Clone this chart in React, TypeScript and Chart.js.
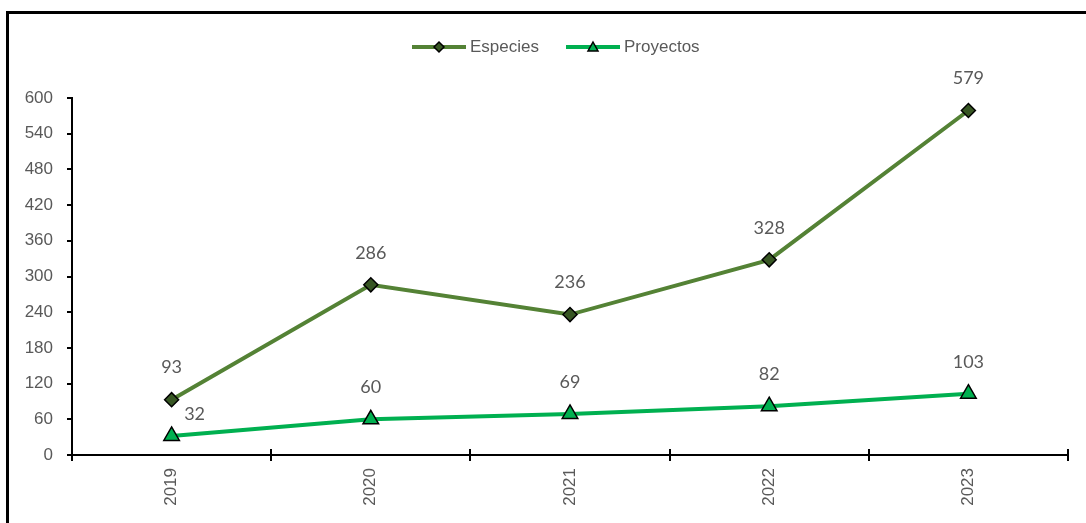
import React, { useEffect, useRef } from "react";
import { Chart, registerables } from "chart.js";

Chart.register(...registerables);

const years = ["2019", "2020", "2021", "2022", "2023"];
const especies = [93, 286, 236, 328, 579];
const proyectos = [32, 60, 69, 82, 103];
const seriesNames = ["Especies", "Proyectos"];

const ESP_LINE = "#548235";
const ESP_FILL = "#375623";
const PRO_LINE = "#00B050";
const PRO_FILL = "#00B050";
const GREY = "#595959";
const TICK_FONT = "'Liberation Sans', Arial, sans-serif";
const LABEL_FONT = "Lato, 'Open Sans', sans-serif";

export default function App() {
  const ref = useRef<HTMLCanvasElement | null>(null);

  useEffect(() => {
    document.body.style.margin = "0";
    const canvas = ref.current;
    if (!canvas) return;

    const extras = {
      id: "extras",
      afterDraw(chart: any) {
        const ctx = chart.ctx;
        const xs = chart.scales.x;
        const area = chart.chartArea;
        ctx.save();
        // cross ticks on x axis (inner part)
        ctx.strokeStyle = "#000";
        ctx.lineWidth = 2;
        const step = xs.getPixelForValue(1) - xs.getPixelForValue(0);
        for (let i = 0; i <= years.length; i++) {
          const x = i < years.length ? xs.getPixelForValue(i) - step / 2 : xs.right;
          ctx.beginPath();
          ctx.moveTo(Math.round(x), area.bottom - 6);
          ctx.lineTo(Math.round(x), area.bottom);
          ctx.stroke();
        }
        // data labels
        ctx.fillStyle = GREY;
        ctx.font = "18px " + LABEL_FONT;
        ctx.textAlign = "center";
        ctx.textBaseline = "middle";
        chart.data.datasets.forEach((ds: any, di: number) => {
          const meta = chart.getDatasetMeta(di);
          meta.data.forEach((pt: any, i: number) => {
            let dx = 0;
            let dy = -32;
            if (di === 1 && i === 0) {
              dx = 23;
              dy = -22;
            }
            ctx.fillText(String(ds.data[i]), pt.x + dx, pt.y + dy);
          });
        });
        // legend
        const ly = 47;
        const items = [
          { x: 412, color: ESP_LINE, fill: ESP_FILL, style: "diamond", text: seriesNames[0] },
          { x: 566, color: PRO_LINE, fill: PRO_FILL, style: "triangle", text: seriesNames[1] },
        ];
        items.forEach((it) => {
          ctx.strokeStyle = it.color;
          ctx.lineWidth = 4;
          ctx.beginPath();
          ctx.moveTo(it.x, ly);
          ctx.lineTo(it.x + 54, ly);
          ctx.stroke();
          const cx = it.x + 27;
          ctx.fillStyle = it.fill;
          ctx.strokeStyle = "#000";
          ctx.lineWidth = 1.5;
          ctx.beginPath();
          if (it.style === "diamond") {
            ctx.moveTo(cx, ly - 5);
            ctx.lineTo(cx + 5, ly);
            ctx.lineTo(cx, ly + 5);
            ctx.lineTo(cx - 5, ly);
          } else {
            ctx.moveTo(cx, ly - 5);
            ctx.lineTo(cx + 5, ly + 4);
            ctx.lineTo(cx - 5, ly + 4);
          }
          ctx.closePath();
          ctx.fill();
          ctx.stroke();
          ctx.fillStyle = GREY;
          ctx.font = "17px " + TICK_FONT;
          ctx.textAlign = "left";
          ctx.textBaseline = "middle";
          ctx.fillText(it.text, it.x + 58, ly);
        });
        ctx.restore();
      },
    };

    const chart = new Chart(canvas, {
      type: "line",
      data: {
        labels: years,
        datasets: [
          {
            label: seriesNames[0],
            data: especies,
            borderColor: ESP_LINE,
            borderWidth: 4,
            backgroundColor: ESP_FILL,
            pointStyle: "rectRot",
            pointRadius: 7,
            pointBorderColor: "#000",
            pointBorderWidth: 1.5,
            pointBackgroundColor: ESP_FILL,
            tension: 0,
          },
          {
            label: seriesNames[1],
            data: proyectos,
            borderColor: PRO_LINE,
            borderWidth: 4,
            backgroundColor: PRO_FILL,
            pointStyle: "triangle",
            pointRadius: 9,
            pointBorderColor: "#000",
            pointBorderWidth: 1.5,
            pointBackgroundColor: PRO_FILL,
            tension: 0,
          },
        ],
      },
      options: {
        animation: false,
        responsive: false,
        devicePixelRatio: 1,
        layout: { padding: { top: 98, left: 0, right: 18, bottom: 0 } },
        plugins: { legend: { display: false }, tooltip: { enabled: false } },
        scales: {
          x: {
            offset: true,
            grid: {
              offset: true,
              drawOnChartArea: false,
              drawTicks: true,
              tickLength: 6,
              color: "#000",
              lineWidth: 2,
            },
            border: { display: true, color: "#000", width: 2 },
            ticks: {
              color: GREY,
              font: { size: 17, family: TICK_FONT },
              minRotation: 90,
              maxRotation: 90,
              padding: 7,
            },
            afterFit(scale: any) {
              scale.height = 68;
            },
          },
          y: {
            min: 0,
            max: 600,
            ticks: {
              stepSize: 60,
              color: GREY,
              font: { size: 17, family: TICK_FONT },
              padding: 14,
            },
            grid: {
              drawOnChartArea: false,
              drawTicks: true,
              tickLength: 5,
              color: "#000",
              lineWidth: 2,
            },
            border: { display: true, color: "#000", width: 2 },
            afterFit(scale: any) {
              scale.width = 72;
            },
          },
        },
      },
      plugins: [extras],
    });

    return () => chart.destroy();
  }, []);

  return (
    <div style={{ position: "relative", width: 1086, height: 523, background: "#fff", overflow: "hidden" }}>
      <canvas ref={ref} width={1086} height={523} style={{ display: "block" }} />
      <div
        style={{
          position: "absolute",
          left: 6,
          top: 11,
          width: 1200,
          height: 600,
          borderLeft: "3px solid #000",
          borderTop: "3px solid #000",
          pointerEvents: "none",
        }}
      />
    </div>
  );
}
